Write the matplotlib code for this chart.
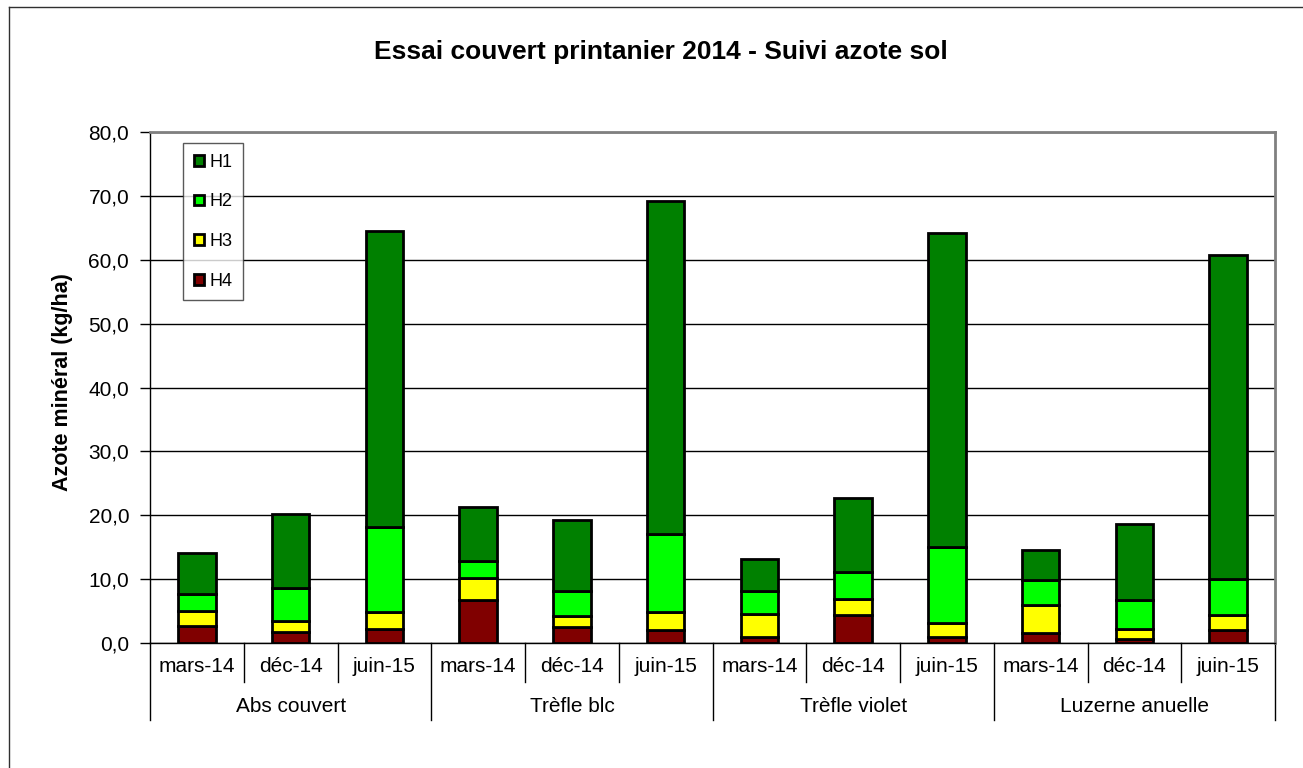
import matplotlib
matplotlib.use("Agg")
import matplotlib.pyplot as plt
from matplotlib.lines import Line2D
import matplotlib.transforms as mtransforms
import numpy as np

plt.rcParams['font.family'] = ['Liberation Sans', 'DejaVu Sans']

groups = ["Abs couvert", "Trèfle blc", "Trèfle violet", "Luzerne anuelle"]
dates = ["mars-14", "déc-14", "juin-15"]
H4 = [2.6, 1.7, 2.2, 6.8, 2.5, 2.0, 1.0, 4.4, 1.0, 1.5, 0.7, 2.0]
H3 = [2.4, 1.8, 2.6, 3.4, 1.7, 2.8, 3.6, 2.5, 2.2, 4.5, 1.5, 2.4]
H2 = [2.6, 5.1, 13.4, 2.6, 4.0, 12.2, 3.6, 4.2, 11.9, 3.9, 4.6, 5.6]
H1 = [6.5, 11.6, 46.3, 8.5, 11.1, 52.2, 5.0, 11.6, 49.1, 4.6, 11.9, 50.7]
series_names = ["H1", "H2", "H3", "H4"]
colors = {"H1": "#008000", "H2": "#00FF00", "H3": "#FFFF00", "H4": "#800000"}

W, H = 1303, 768
fig = plt.figure(figsize=(W / 100, H / 100), dpi=100)
fig.patch.set_facecolor("white")

# outer chart border
fig.add_artist(Line2D([9 / W, 9 / W], [0, 1 - 7 / H], color="#303030", lw=1.0, transform=fig.transFigure))
fig.add_artist(Line2D([9 / W, 1], [1 - 7 / H, 1 - 7 / H], color="#303030", lw=1.0, transform=fig.transFigure))

L, R, T, B = 150, 1275, 132, 643
ax = fig.add_axes([L / W, 1 - B / H, (R - L) / W, (B - T) / H])

n = len(H1)
x = np.arange(n)
bw = 0.4
bottom = np.zeros(n)
data = {"H4": H4, "H3": H3, "H2": H2, "H1": H1}
handles = {}
for name in ["H4", "H3", "H2", "H1"]:
    vals = np.array(data[name])
    b = ax.bar(x, vals, bw, bottom=bottom, color=colors[name], edgecolor="black", linewidth=2.0, zorder=3, label=name)
    handles[name] = b
    bottom += vals

ax.set_xlim(-0.5, n - 0.5)
ax.set_ylim(0, 80)
ax.set_yticks(np.arange(0, 81, 10))
ax.set_yticklabels([f"{v:.1f}".replace(".", ",") for v in np.arange(0, 81, 10)], fontsize=15)
ax.tick_params(axis="y", direction="out", length=7, width=1, color="black", pad=8)
ax.set_xticks([])
ax.yaxis.grid(True, color="black", lw=1.0, zorder=0)
ax.set_axisbelow(True)
for s in ["top", "right"]:
    ax.spines[s].set_color("#808080")
    ax.spines[s].set_linewidth(2)
ax.spines["left"].set_color("black")
ax.spines["left"].set_linewidth(1)
ax.spines["bottom"].set_color("black")
ax.spines["bottom"].set_linewidth(1)

ph = B - T
ax.set_ylabel("Azote minéral (kg/ha)", fontsize=15.5, fontweight="bold")
ax.yaxis.set_label_coords((73 - L) / (R - L), (B - 382) / ph)

trans = mtransforms.blended_transform_factory(ax.transData, ax.transAxes)
for i in range(n + 1):
    xb = i - 0.5
    depth = 77 / ph if i % 3 == 0 else 39 / ph
    ax.add_line(Line2D([xb, xb], [0, -depth], color="black", lw=1, transform=trans, clip_on=False))
for i in range(n):
    ax.text(x[i], -24 / ph, dates[i % 3], transform=trans, ha="center", va="center", fontsize=15)
for g, name in enumerate(groups):
    ax.text(3 * g + 1, -64 / ph, name, transform=trans, ha="center", va="center", fontsize=15)

fig.text(661 / W, 1 - 52 / H, "Essai couvert printanier 2014 - Suivi azote sol", ha="center", va="center",
         fontsize=19, fontweight="bold")

leg = ax.legend([handles[k] for k in series_names], series_names, loc="upper left",
                bbox_to_anchor=((183 - L) / (R - L), 1 - (143 - T) / ph), fontsize=13,
                frameon=True, fancybox=False, edgecolor="#303030", handlelength=0.55, handleheight=0.55,
                handletextpad=0.3, labelspacing=1.25, borderpad=0.6, borderaxespad=0)
leg.get_frame().set_linewidth(1)
leg.set_zorder(5)

fig.savefig("out.png", dpi=100, facecolor="white")
